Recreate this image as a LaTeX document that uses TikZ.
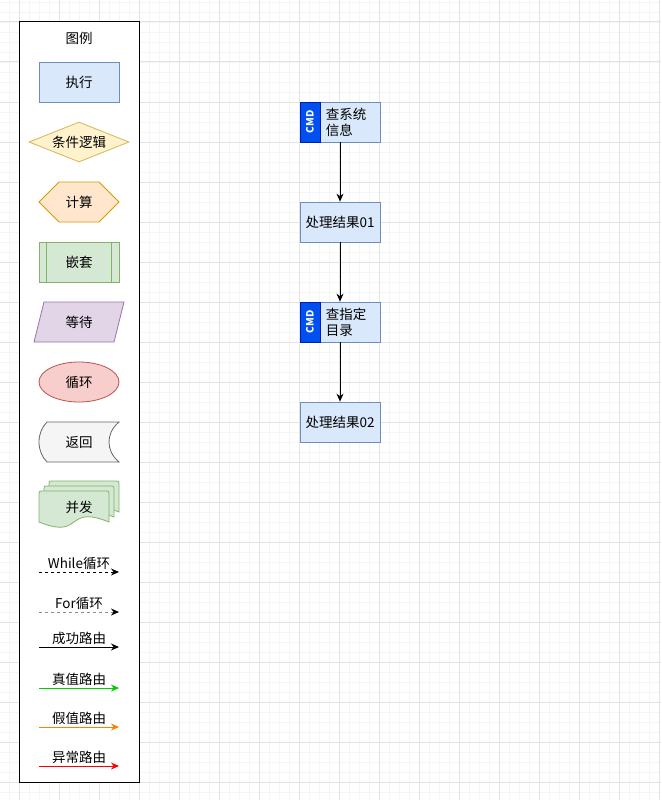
\documentclass[tikz,border=0pt]{standalone}
\usepackage{fontspec}
\setmainfont{Noto Sans CJK SC}
\usetikzlibrary{positioning,arrows.meta,shapes.geometric,calc}

\definecolor{bluefill}{HTML}{DAE8FC}
\definecolor{bluedraw}{HTML}{6C8EBF}
\definecolor{yellowfill}{HTML}{FFF2CC}
\definecolor{yellowdraw}{HTML}{D6B656}
\definecolor{orangefill}{HTML}{FFE6CC}
\definecolor{orangedraw}{HTML}{D79B00}
\definecolor{greenfill}{HTML}{D5E8D4}
\definecolor{greendraw}{HTML}{82B366}
\definecolor{purplefill}{HTML}{E1D5E7}
\definecolor{purpledraw}{HTML}{9673A6}
\definecolor{redfill}{HTML}{F8CECC}
\definecolor{reddraw}{HTML}{B85450}
\definecolor{grayfill}{HTML}{F5F5F5}
\definecolor{graydraw}{HTML}{666666}
\definecolor{tabfill}{HTML}{0050EF}
\definecolor{tabdraw}{HTML}{001DBC}
\definecolor{truegreen}{HTML}{00CC00}
\definecolor{falseorange}{HTML}{FF8000}

\begin{document}
\begin{tikzpicture}[
  x=1pt, y=-1pt,
  font=\fontsize{13.5}{16}\selectfont,
  >={Stealth[length=8pt,width=7pt]},
  gridminor/.style={draw=black!4, line width=0.8pt},
  gridmajor/.style={draw=black!11, line width=1pt},
  legbox/.style={draw=black, line width=1pt, fill=white, minimum width=120pt, minimum height=760pt, inner sep=0pt},
  shapetext/.style={inner sep=0pt},
  execbox/.style={rectangle, draw=bluedraw, fill=bluefill, line width=0.8pt, minimum width=80pt, minimum height=40pt, inner sep=0pt},
  condbox/.style={diamond, aspect=2.5, draw=yellowdraw, fill=yellowfill, line width=0.8pt, minimum width=100pt, minimum height=40pt, inner sep=0pt},
  nestbox/.style={rectangle, draw=greendraw, fill=greenfill, line width=0.8pt, minimum width=80pt, minimum height=40pt, inner sep=0pt},
  loopbox/.style={ellipse, draw=reddraw, fill=redfill, line width=0.8pt, minimum width=80pt, minimum height=40pt, inner sep=0pt},
  cmdtab/.style={rectangle, draw=tabdraw, fill=tabfill, line width=0.8pt, minimum width=20pt, minimum height=40pt, inner sep=0pt},
  cmdmark/.style={rotate=90, text=white, font=\fontsize{10}{11}\selectfont\bfseries, inner sep=0pt},
  flowtext/.style={align=left, inner sep=0pt},
  edgetext/.style={above, inner sep=1.5pt},
  flowarrow/.style={->, draw=black, line width=1pt},
  whilemap/.style={->, draw=black, line width=1pt, dash pattern=on 3pt off 3pt},
  formap/.style={-{Stealth[length=8pt,width=7pt,black]}, draw=black!45, line width=1pt, dash pattern=on 3pt off 3pt},
  okmap/.style={->, draw=black, line width=1pt},
  truemap/.style={->, draw=truegreen, line width=1pt},
  falsemap/.style={->, draw=falseorange, line width=1pt},
  errmap/.style={->, draw=red, line width=1pt}
]
  \fill[white] (0,0) rectangle (661,800);
  \useasboundingbox (0,0) rectangle (661,800);
  \foreach \gx in {9,19,...,659} \draw[gridminor] (\gx,0) -- (\gx,800);
  \foreach \gy in {2,12,...,792} \draw[gridminor] (0,\gy) -- (661,\gy);
  \foreach \gx in {19,59,...,659} \draw[gridmajor] (\gx,0) -- (\gx,800);
  \foreach \gy in {22,62,...,782} \draw[gridmajor] (0,\gy) -- (661,\gy);

  % legend
  \node[legbox] (legend) at (79,402) {};
  \node[shapetext] (legtitle) at (79,38) {图例};
  \node[execbox] (legexec) at (79,82) {执行};
  \node[condbox] (legcond) at (79,142) {条件逻辑};
  \filldraw[draw=orangedraw, fill=orangefill, line width=0.8pt]
    (39,202) -- (59,182) -- (99,182) -- (119,202) -- (99,222) -- (59,222) -- cycle;
  \node[shapetext] (legcalc) at (79,202) {计算};
  \node[nestbox] (legnest) at (79,262) {嵌套};
  \draw[draw=greendraw, line width=0.8pt] ([xshift=8pt]legnest.north west) -- ([xshift=8pt]legnest.south west)
    ([xshift=-8pt]legnest.north east) -- ([xshift=-8pt]legnest.south east);
  \filldraw[draw=purpledraw, fill=purplefill, line width=0.8pt]
    (34,342) -- (44,302) -- (124,302) -- (114,342) -- cycle;
  \node[shapetext] (legwait) at (79,322) {等待};
  \node[loopbox] (legloop) at (79,382) {循环};
  \filldraw[draw=graydraw, fill=grayfill, line width=0.8pt]
    (47,422) -- (119,422) .. controls (112,428) and (109,435) .. (109,442)
    .. controls (109,449) and (112,456) .. (119,462) -- (47,462)
    .. controls (42,457) and (39,450) .. (39,442) .. controls (39,434) and (42,427) .. (47,422) -- cycle;
  \node[shapetext] (legreturn) at (79,442) {返回};
  \foreach \d in {10,5,0} {
    \filldraw[draw=greendraw, fill=greenfill, line width=0.8pt]
      ({39+\d+3},{491-\d}) -- ({39+\d+67},{491-\d}) .. controls ({39+\d+70},{491-\d}) .. ({39+\d+70},{491-\d+3})
      -- ({39+\d+70},{491-\d+31}) .. controls ({39+\d+52},{491-\d+24}) and ({39+\d+44},{491-\d+24}) .. ({39+\d+35},{491-\d+31})
      .. controls ({39+\d+26},{491-\d+38}) and ({39+\d+18},{491-\d+38}) .. ({39+\d},{491-\d+31})
      -- ({39+\d},{491-\d+3}) .. controls ({39+\d},{491-\d}) .. ({39+\d+3},{491-\d}) -- cycle;
  }
  \node[shapetext] (legpar) at (79,507) {并发};

  \coordinate (wa) at (39,572); \coordinate (wb) at (119,572);
  \coordinate (fa) at (39,612); \coordinate (fb) at (119,612);
  \coordinate (oa) at (39,647); \coordinate (ob) at (119,647);
  \coordinate (ta) at (39,688); \coordinate (tb) at (119,688);
  \coordinate (xa) at (39,727); \coordinate (xb) at (119,727);
  \coordinate (ea) at (39,766); \coordinate (eb) at (119,766);
  \draw[whilemap] (wa) -- node[edgetext] (legwhile) {While循环} (wb);
  \draw[formap] (fa) -- node[edgetext] (legfor) {For循环} (fb);
  \draw[okmap] (oa) -- node[edgetext] (legok) {成功路由} (ob);
  \draw[truemap] (ta) -- node[edgetext] (legtrue) {真值路由} (tb);
  \draw[falsemap] (xa) -- node[edgetext] (legfalse) {假值路由} (xb);
  \draw[errmap] (ea) -- node[edgetext] (legerr) {异常路由} (eb);

  % flow
  \node[execbox] (cmd1) at (340,122) {};
  \node[cmdtab] (tab1) at (310,122) {};
  \node[cmdmark] (mark1) at (tab1) {CMD};
  \node[flowtext, anchor=west] (txt1) at ([xshift=26pt]cmd1.west) {查系统\\信息};
  \node[execbox] (res1) at (340,222) {处理结果01};
  \node[execbox] (cmd2) at (340,322) {};
  \node[cmdtab] (tab2) at (310,322) {};
  \node[cmdmark] (mark2) at (tab2) {CMD};
  \node[flowtext, anchor=west] (txt2) at ([xshift=26pt]cmd2.west) {查指定\\目录};
  \node[execbox] (res2) at (340,422) {处理结果02};
  \draw[flowarrow] (cmd1) -- (res1);
  \draw[flowarrow] (res1) -- (cmd2);
  \draw[flowarrow] (cmd2) -- (res2);
\end{tikzpicture}
\end{document}
